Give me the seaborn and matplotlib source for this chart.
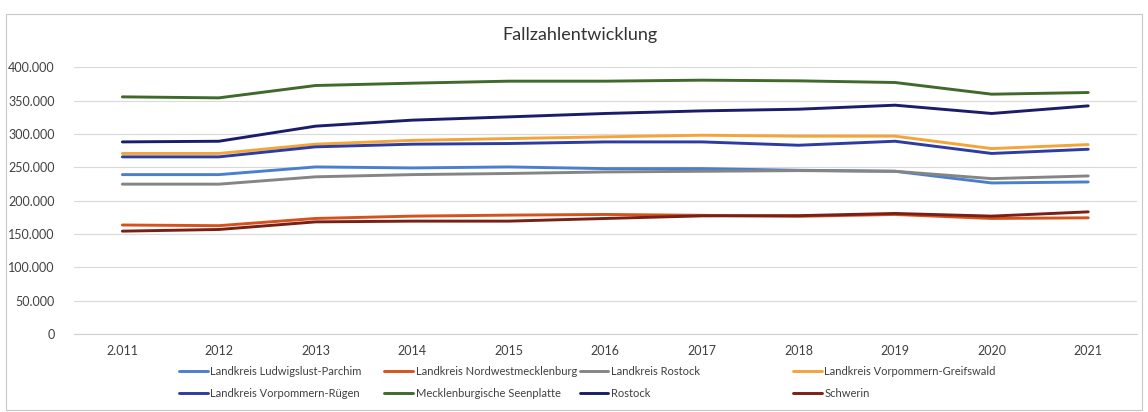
import matplotlib
matplotlib.use("Agg")
import matplotlib.pyplot as plt
from matplotlib.patches import Rectangle
from matplotlib.ticker import FuncFormatter
import seaborn as sns
import pandas as pd

years = [2011, 2012, 2013, 2014, 2015, 2016, 2017, 2018, 2019, 2020, 2021]
year_labels = ["2.011", "2012", "2013", "2014", "2015", "2016", "2017", "2018", "2019", "2020", "2021"]

ludwigslust_parchim = [239000, 239000, 250500, 249000, 250500, 248000, 248000, 245500, 244000, 226500, 228000]
nordwestmecklenburg = [163500, 162500, 173300, 176800, 178300, 179300, 178000, 176500, 179300, 173300, 174300]
landkreis_rostock = [224700, 224700, 235700, 239000, 240700, 243000, 244000, 245000, 244000, 233000, 237000]
vorpommern_greifswald = [270700, 270700, 284600, 290300, 293000, 295600, 298000, 296600, 296600, 278000, 284000]
vorpommern_ruegen = [265600, 265600, 280600, 284600, 285600, 288000, 288000, 283000, 289000, 270700, 277000]
seenplatte = [355500, 354000, 372500, 376000, 379000, 379000, 380500, 379500, 377000, 359500, 362000]
rostock = [288000, 289000, 311600, 320600, 325500, 330600, 334500, 337000, 343000, 330600, 342000]
schwerin = [154300, 156800, 168200, 169300, 169300, 173300, 177200, 177500, 180800, 176800, 183200]

series_names = [
    "Landkreis Ludwigslust-Parchim",
    "Landkreis Nordwestmecklenburg",
    "Landkreis Rostock",
    "Landkreis Vorpommern-Greifswald",
    "Landkreis Vorpommern-Rügen",
    "Mecklenburgische Seenplatte",
    "Rostock",
    "Schwerin",
]
series_values = [ludwigslust_parchim, nordwestmecklenburg, landkreis_rostock, vorpommern_greifswald,
                 vorpommern_ruegen, seenplatte, rostock, schwerin]
colors = ["#4a7fd0", "#d6521d", "#858585", "#f4a53a", "#2b3ca3", "#3f6a2c", "#1c1c6c", "#7a1f16"]

rows = []
for name, vals in zip(series_names, series_values):
    for i, v in enumerate(vals):
        rows.append({"idx": i, "Wert": v, "Serie": name})
df = pd.DataFrame(rows)

sns.set_theme(style="white")
plt.rcParams["font.family"] = ["Lato", "DejaVu Sans"]

fig = plt.figure(figsize=(11.48, 4.12), dpi=100)
ax = fig.add_axes([0.0645, 0.189, 0.9255, 0.648])

sns.lineplot(data=df, x="idx", y="Wert", hue="Serie", hue_order=series_names,
             palette=dict(zip(series_names, colors)), linewidth=2.1, ax=ax, legend=False)

ax.set_xlim(-0.5, 10.5)
ax.set_ylim(0, 400000)
ax.set_yticks(range(0, 400001, 50000))
ax.yaxis.set_major_formatter(FuncFormatter(lambda v, p: "0" if v == 0 else f"{int(v):,}".replace(",", ".")))
ax.set_xticks(range(len(years)))
ax.set_xticklabels(year_labels)
ax.tick_params(axis="both", labelsize=9, colors="#404040", length=0)
ax.tick_params(axis="y", pad=14)
ax.tick_params(axis="x", pad=8)
ax.set_xlabel("")
ax.set_ylabel("")
ax.grid(axis="y", color="#d9d9d9", linewidth=0.8)
ax.set_axisbelow(True)
for s in ["top", "right", "left"]:
    ax.spines[s].set_visible(False)
ax.spines["bottom"].set_color("#d0d0d0")
ax.spines["bottom"].set_linewidth(0.8)

fig.text(0.505, 0.915, "Fallzahlentwicklung", ha="center", va="center", fontsize=13, color="#333333")

fig.patches.append(Rectangle((0.005, 0.005), 0.99, 0.96, transform=fig.transFigure,
                             fill=False, edgecolor="#c8c8c8", linewidth=0.8))

lines = ax.get_lines()
handles = {name: lines[i] for i, name in enumerate(series_names)}
groups = [
    (0.151, ["Landkreis Ludwigslust-Parchim", "Landkreis Vorpommern-Rügen"]),
    (0.330, ["Landkreis Nordwestmecklenburg", "Mecklenburgische Seenplatte"]),
    (0.500, ["Landkreis Rostock", "Rostock"]),
    (0.686, ["Landkreis Vorpommern-Greifswald", "Schwerin"]),
]
for xpos, names in groups:
    fig.legend([handles[n] for n in names], names, loc="upper left",
               bbox_to_anchor=(xpos, 0.125), frameon=False, fontsize=8,
               handlelength=2.6, handletextpad=0.2, labelspacing=0.95,
               borderpad=0, labelcolor="#404040")

fig.savefig("out.png", dpi=100)
